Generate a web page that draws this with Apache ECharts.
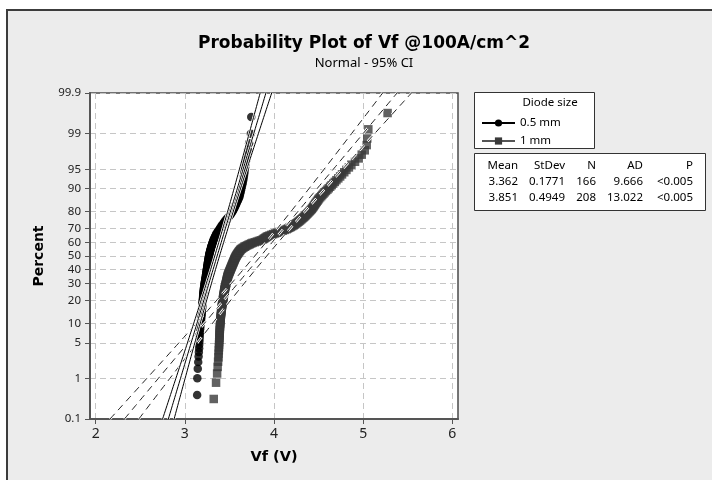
<!DOCTYPE html>
<html><head><meta charset="utf-8">
<script src="https://cdn.jsdelivr.net/npm/echarts@6/dist/echarts.min.js"></script>
<style>html,body{margin:0;padding:0;background:#fff}#c{width:712px;height:480px}</style>
</head><body><div id="c"></div>
<script>
// ---- data (sorted Vf readings, V) ----
const vf05 = [3.138,3.140,3.145,3.150,3.154,3.157,3.160,3.161,3.163,3.165,3.166,3.168,3.169,3.171,3.172,3.174,
3.178,3.180,3.181,3.183,
3.184,3.186,3.187,3.189,3.190, 3.192,3.193,3.194,3.196,3.197, 3.198,3.199,3.201,3.202,3.203, 3.204,3.205,3.206,3.207,3.208,
3.209,3.210,3.212,3.213,3.214, 3.216,3.217,3.219,3.220,3.222, 3.223,3.225,3.227,3.228,3.230, 3.232,3.233,3.235,3.236,3.238,
3.239,3.241,3.242,3.244,3.245, 3.246,3.248,3.249,3.251,3.252, 3.253,3.255,3.256,3.258,3.259, 3.260,3.262,3.263,3.265,3.266,
3.268,3.269,3.271,3.272,3.274, 3.276,3.278,3.280,3.283,3.285, 3.287,3.290,3.292,3.295,3.297, 3.300,3.303,3.306,3.309,3.312,
3.315,3.318,3.322,3.326,3.330, 3.334,3.338,3.343,3.347,3.352, 3.358,3.364,3.370,3.377,3.383, 3.390,3.397,3.404,3.411,3.418,
3.425,3.433,3.441,3.448,3.456, 3.466,3.476,3.486,3.496,3.506, 3.514,3.522,3.530,3.538,3.545, 3.551,3.558,3.564,3.571,3.577,
3.584,3.591,3.598,3.605,3.612, 3.616,3.620,3.625,3.629,3.633,
3.638,3.644,3.649, 3.654,3.658,3.663, 3.667,3.671, 3.676,3.682, 3.690,3.697, 3.708,3.721,3.740,3.745];
const vf1 = [3.324,3.350,3.362,3.368,3.373,3.377,3.379,3.381,3.383,3.384,3.385,3.387,3.388,3.389,3.390,3.391,3.392,3.393,3.394,3.395,
3.396,3.397,3.398,3.400,3.401, 3.402,3.403,3.405,3.406,3.408, 3.409,3.410,3.411,3.413,3.414, 3.416,3.418,3.420,3.421,3.423,
3.425,3.426,3.428,3.429,3.431, 3.433,3.434,3.436,3.437,3.439, 3.440,3.442,3.443,3.445,3.446, 3.448,3.450,3.452,3.454,3.456,
3.458,3.460,3.462,3.464,3.466, 3.468,3.470,3.471,3.473,3.475, 3.477,3.479,3.481,3.483,3.485, 3.488,3.491,3.494,3.497,3.500,
3.503,3.506,3.509,3.512,3.515, 3.518,3.521,3.524,3.527,3.530, 3.533,3.536,3.539,3.542,3.545, 3.548,3.551,3.554,3.557,3.560,
3.563,3.567,3.570,3.574,3.578, 3.582,3.587,3.592,3.596,3.601, 3.606,3.612,3.617,3.623,3.629, 3.638,3.648,3.660,3.672,3.684,
3.698,3.713,3.728,3.744,3.760, 3.784,3.808,3.830,3.852,3.873, 3.884,3.895,3.906,3.918,3.930, 3.950,3.970,3.990,4.012,4.033,
4.055,4.077,4.099,4.120,4.142, 4.157,4.172,4.188,4.203,4.218, 4.229,4.241,4.252,4.264,4.275, 4.286,4.296,4.307,4.317,4.328,
4.338,4.348,4.357,4.367,4.377, 4.386,4.396,4.405,4.415,4.424, 4.432,4.440,4.447,4.455,4.462, 4.470,4.479,4.488,4.496,4.505,
4.517,4.530,4.542,4.555,4.568, 4.583,4.599,4.614,4.630,4.646,
4.664,4.682,4.700, 4.721,4.742,4.763, 4.788,4.812, 4.840,4.868, 4.909,4.950, 4.984,5.018, 5.040,5.046,5.058,5.274];
const seriesNames = ['0.5 mm', '1 mm'];
const means = [3.362, 3.851];
const stdevs = [0.1771, 0.4949];
const counts = [166, 208];
const adText = ['9.666', '13.022'];
const pText = ['<0.005', '<0.005'];
const tableHeader = ['Mean', 'StDev', 'N', 'AD', 'P'];
const percentTicks = [0.1, 1, 5, 10, 20, 30, 40, 50, 60, 70, 80, 90, 95, 99, 99.9];
const xTicks = [2, 3, 4, 5, 6];

// ---- normal quantile (probability scale transform) ----
function normInv(p){
  const a=[-3.969683028665376e+01,2.209460984245205e+02,-2.759285104469687e+02,1.383577518672690e+02,-3.066479806614716e+01,2.506628277459239e+00];
  const b=[-5.447609879822406e+01,1.615858368580409e+02,-1.556989798598866e+02,6.680131188771972e+01,-1.328068155288572e+01];
  const c=[-7.784894002430293e-03,-3.223964580411365e-01,-2.400758277161838e+00,-2.549671010229452e+00,4.374664141464968e+00,2.938163982698783e+00];
  const d=[7.784695709041462e-03,3.224671290700398e-01,2.445134137142996e+00,3.754408661907416e+00];
  const pl=0.02425, ph=1-pl; let q,r;
  if(p<pl){q=Math.sqrt(-2*Math.log(p));return (((((c[0]*q+c[1])*q+c[2])*q+c[3])*q+c[4])*q+c[5])/((((d[0]*q+d[1])*q+d[2])*q+d[3])*q+1);}
  if(p>ph){q=Math.sqrt(-2*Math.log(1-p));return -(((((c[0]*q+c[1])*q+c[2])*q+c[3])*q+c[4])*q+c[5])/((((d[0]*q+d[1])*q+d[2])*q+d[3])*q+1);}
  q=p-0.5;r=q*q;return (((((a[0]*r+a[1])*r+a[2])*r+a[3])*r+a[4])*r+a[5])*q/(((((b[0]*r+b[1])*r+b[2])*r+b[3])*r+b[4])*r+1);
}
const tickZraw = percentTicks.map(p => normInv(p / 100));
const zMax = Math.max(Math.abs(tickZraw[0]), Math.abs(tickZraw[tickZraw.length - 1])) + 1e-9;
const tickZ = tickZraw.map(z => Math.max(-zMax + 2e-9, Math.min(zMax - 2e-9, z)));

function plotPoints(vals){
  const n = vals.length;
  return vals.map((v, i) => [v, normInv((i + 1 - 0.3) / (n + 0.4))]);
}
function fitLines(m, s, n){
  const lo = [], mid = [], hi = [];
  const steps = 120;
  for (let k = 0; k <= steps; k++){
    const z = -zMax + 2 * zMax * k / steps;
    const x = m + s * z;
    const hw = 1.96 * s * Math.sqrt(1 / n + z * z / (2 * n));
    lo.push([x - hw, z]); mid.push([x, z]); hi.push([x + hw, z]);
  }
  return [lo, mid, hi];
}

const FONT = 'Noto Sans';
const BOLD = 'DejaVu Sans';
const fits = [fitLines(means[0], stdevs[0], counts[0]), fitLines(means[1], stdevs[1], counts[1])];

const series = [];
series.push({type:'scatter', name:'pts0', data: plotPoints(vf05), symbol:'circle', symbolSize:8.5,
  itemStyle:{color:'#000'}, silent:true});
series.push({type:'scatter', name:'pts1', data: plotPoints(vf1), symbol:'rect', symbolSize:8.5,
  itemStyle:{color:'#3a3a3a'}, silent:true});
fits[1].forEach(d => series.push({type:'line', data:d, showSymbol:false, symbol:'none', silent:true,
  lineStyle:{color:'#fff', width:2.5, type:[7,5]}}));
fits[1].forEach(d => series.push({type:'line', data:d, showSymbol:false, symbol:'none', silent:true,
  lineStyle:{color:'#222', width:1, type:[7,5]}}));
fits[0].forEach(d => series.push({type:'line', data:d, showSymbol:false, symbol:'none', silent:true,
  lineStyle:{color:'#fff', width:2.5}}));
fits[0].forEach(d => series.push({type:'line', data:d, showSymbol:false, symbol:'none', silent:true,
  lineStyle:{color:'#000', width:1}}));
// legend-only entries
series.push({type:'line', name:seriesNames[0], data:[], symbol:'circle', symbolSize:8,
  itemStyle:{color:'#000'}, lineStyle:{color:'#000', width:1}});
series.push({type:'line', name:seriesNames[1], data:[], symbol:'rect', symbolSize:8,
  itemStyle:{color:'#3a3a3a'}, lineStyle:{color:'#555', width:1}});

const tableCols = [518, 565, 596, 643, 693];
const tableRows = [166, 182, 198];
const tableCells = [tableHeader,
  [means[0].toFixed(3), stdevs[0].toFixed(4), String(counts[0]), adText[0], pText[0]],
  [means[1].toFixed(3), stdevs[1].toFixed(4), String(counts[1]), adText[1], pText[1]]];
const graphics = [
  {type:'rect', z:-10, shape:{x:7, y:10, width:720, height:490},
   style:{fill:'#ececec', stroke:'#3c3c3c', lineWidth:2}},
  {type:'text', x:364, y:44, style:{text:'Probability Plot of Vf @100A/cm^2', font:'bold 17px "' + BOLD + '"',
   fill:'#000', textAlign:'center', textVerticalAlign:'middle'}},
  {type:'text', x:364, y:63, style:{text:'Normal - 95% CI', font:'13px "' + FONT + '"',
   fill:'#000', textAlign:'center', textVerticalAlign:'middle'}},
  {type:'rect', shape:{x:474.5, y:92.5, width:120, height:56}, style:{fill:'#fff', stroke:'#333', lineWidth:1}},
  {type:'text', x:550, y:103, style:{text:'Diode size', font:'11.5px "' + FONT + '"', fill:'#000',
   textAlign:'center', textVerticalAlign:'middle'}},
  {type:'rect', shape:{x:474.5, y:153.5, width:231, height:57}, style:{fill:'#fff', stroke:'#333', lineWidth:1}}
];
tableCells.forEach((row, r) => row.forEach((t, ci) => graphics.push({type:'text', x:tableCols[ci], y:tableRows[r],
  style:{text:t, font:'11.5px "' + FONT + '"', fill:'#000', textAlign:'right', textVerticalAlign:'middle'}})));

function pctLabel(v){
  for (let i = 0; i < tickZ.length; i++) if (Math.abs(tickZ[i] - v) < 1e-6) return String(percentTicks[i]);
  return '';
}
const chart = echarts.init(document.getElementById('c'), null, {renderer:'canvas'});
chart.setOption({
  animation:false,
  backgroundColor:'transparent',
  graphic: graphics,
  legend:{data:seriesNames, orient:'vertical', left:481, top:117, padding:0, itemWidth:33, itemHeight:9, itemGap:6,
    textStyle:{fontFamily:FONT, fontSize:11.5, color:'#000'}, selectedMode:false},
  grid:{left:90, top:93, width:368, height:326, show:true, backgroundColor:'#fff', borderColor:'#4a4a4a', borderWidth:1.5},
  xAxis:{type:'value', min:1.936, max:6.064,
    axisLine:{show:true, onZero:false, lineStyle:{color:'#555', width:2}},
    axisTick:{show:true, customValues:xTicks, length:5, lineStyle:{color:'#555'}},
    axisLabel:{customValues:xTicks, fontFamily:FONT, fontSize:14, color:'#222', margin:8},
    splitLine:{show:true, lineStyle:{color:'#c6c6c6', width:1, type:[6,4]}},
    name:'Vf (V)', nameLocation:'middle', nameGap:31,
    nameTextStyle:{fontFamily:BOLD, fontWeight:'bold', fontSize:14.5, color:'#000'}},
  yAxis:{type:'value', min:-zMax, max:zMax,
    axisLine:{show:true, onZero:false, lineStyle:{color:'#555', width:2}},
    axisTick:{show:true, customValues:tickZ, length:5, lineStyle:{color:'#555'}},
    axisLabel:{customValues:tickZ, formatter:pctLabel, fontFamily:FONT, fontSize:11.5, color:'#222', margin:9,
      showMinLabel:true, showMaxLabel:true},
    splitLine:{show:true, lineStyle:{color:'#c6c6c6', width:1, type:[6,4]}},
    name:'Percent', nameLocation:'middle', nameGap:44,
    nameTextStyle:{fontFamily:BOLD, fontWeight:'bold', fontSize:14, color:'#000'}},
  series: series
});
</script></body></html>
